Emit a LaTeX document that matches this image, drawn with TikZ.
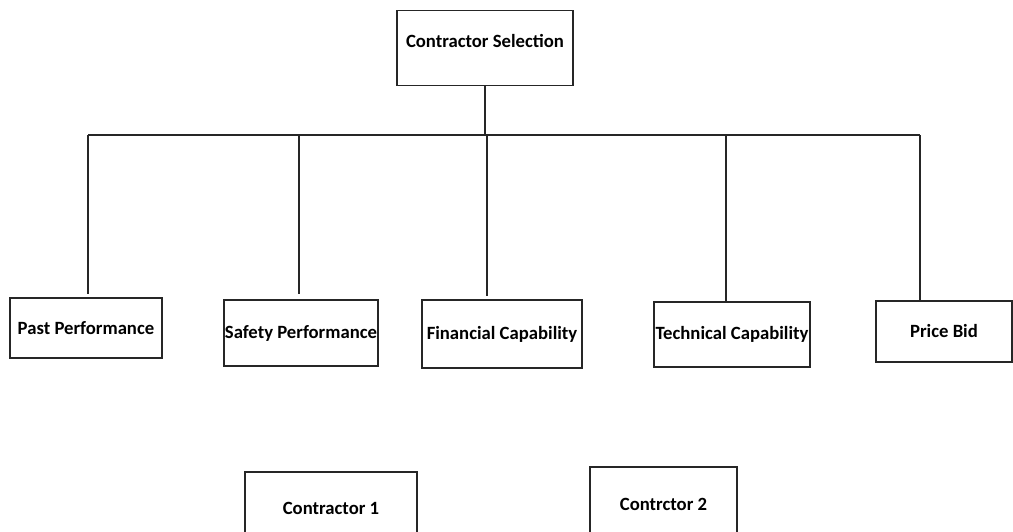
\documentclass[tikz,border=0pt]{standalone}
\usepackage{fontspec}
\setmainfont{Carlito}

\tikzset{
  critbox/.style={draw=black!85, line width=1.4pt, inner sep=0pt, align=center,
    font=\fontsize{18.7}{21}\selectfont\bfseries},
  branch/.style={draw=black!85, line width=1.4pt}
}

\begin{document}
\begin{tikzpicture}[x=1pt, y=-1pt]
      \useasboundingbox (0, 0) rectangle (1013, 531);

      % Goal
      \node[critbox, minimum width=176pt, text height=37pt, text depth=38pt, anchor=north]
        (goal) at (485, 10) {Contractor Selection};

      % Criteria
      \node[critbox, minimum width=152pt, minimum height=60pt] (past) at (86, 328) {Past Performance};
      \node[critbox, minimum width=154pt, minimum height=66pt] (safety) at (301, 333) {Safety Performance};
      \node[critbox, minimum width=160pt, minimum height=68pt] (finance) at (502, 334) {Financial Capability};
      \node[critbox, minimum width=156pt, minimum height=65pt] (tech) at (732, 334.5) {Technical Capability};
      \node[critbox, minimum width=136pt, minimum height=61pt] (price) at (944, 331.5) {Price Bid};

      % Alternatives
      \node[critbox, minimum width=172pt, minimum height=72pt] (contr1) at (331, 508) {Contractor 1};
      \node[critbox, minimum width=147pt, minimum height=74pt] (contr2) at (663.5, 504) {Contrctor 2};

      % Bar
      \coordinate (b1) at (88, 135); \coordinate (b2) at (299, 135);
      \coordinate (b3) at (487, 135); \coordinate (b4) at (726, 135);
      \coordinate (b5) at (920, 135);
      \draw[branch] (b1) -- (b5);
      \draw[branch] (goal.south) -- (goal.south |- b1);

      % Branches
      \draw[branch] (b1) -- ([yshift=3pt]b1 |- past.north);
      \draw[branch] (b2) -- ([yshift=5pt]b2 |- safety.north);
      \draw[branch] (b3) -- ([yshift=3pt]b3 |- finance.north);
      \draw[branch] (b4) -- (b4 |- tech.north);
      \draw[branch] (b5) -- (b5 |- price.north);
    \end{tikzpicture}
\end{document}
